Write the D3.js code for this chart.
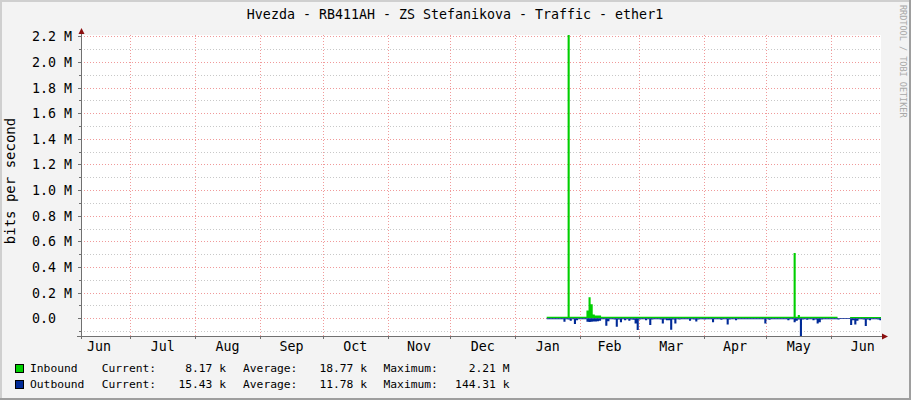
<!DOCTYPE html>
<html><head><meta charset="utf-8">
<script src="https://cdn.jsdelivr.net/npm/d3@7/dist/d3.min.js"></script>
<style>
html,body{margin:0;padding:0;background:#F3F3F3;}
svg{display:block;}
text{font-family:"DejaVu Sans Mono",monospace;}
</style></head>
<body>
<svg id="chart" width="911" height="400"></svg>
<script>
// ---------- data ----------
const title = "Hvezda - RB411AH - ZS Stefanikova - Traffic - ether1";
const yAxisTitle = "bits per second";
const watermark = "RRDTOOL / TOBI OETIKER";
const monthLabels = ["Jun","Jul","Aug","Sep","Oct","Nov","Dec","Jan","Feb","Mar","Apr","May","Jun"];
const yTickValues = [0,0.2e6,0.4e6,0.6e6,0.8e6,1.0e6,1.2e6,1.4e6,1.6e6,1.8e6,2.0e6,2.2e6];
const yTickLabels = ["0.0","0.2 M","0.4 M","0.6 M","0.8 M","1.0 M","1.2 M","1.4 M","1.6 M","1.8 M","2.0 M","2.2 M"];
const seriesNames = ["Inbound","Outbound"];
const seriesColors = ["#00CF00","#002A97"];
const statCurrent = ["8.17 k","15.43 k"];
const statAverage = ["18.77 k","11.78 k"];
const statMaximum = ["2.21 M","144.31 k"];
const dataStart = "2013-01-16";   // one value per day (kbit/s)
const inbound = [
 12,12,12,12,12,12,12,12,12,12, 2210,12,12,12,12,12,12,12,12,60,
 165,110,30,22,22,22,12,12,12,12, 12,12,12,12,12,12,12,12,12,12,
 12,12,12,12,12,12,12,12,12,12, 12,12,12,12,12,12,12,12,12,12,
 12,12,12,12,12,12,12,12,12,12, 12,12,12,12,12,12,12,12,12,12,
 12,12,12,12,12,12,12,12,12,12, 12,12,12,12,12,12,12,12,12,12,
 12,12,12,12,12,12,12,12,12,12, 12,12,12,12,12,12,12,12,510,12,
 25,12,12,12,12,12,12,12,12,12, 12,12,12,12,12,12,12,12,12,1,
 1,1,1,1,1,10,10,10,10,10, 10,10,10,10,10,10,10,10,10,10
];
const outbound = [
 8,8,8,8,8,8,8,8,26,8, 10,19,8,44,15,8,8,8,8,26,
 28,26,24,24,22,20,8,8,58,22, 8,8,10,65,10,30,8,15,8,20,
 10,12,40,91,10,8,8,15,8,52, 10,8,8,8,10,41,10,15,15,90,
 10,40,8,10,8,8,8,8,20,8, 10,25,10,8,8,10,8,8,8,30,
 8,8,8,12,8,8,48,10,8,8, 15,8,8,8,8,8,8,8,8,8,
 8,8,8,8,40,8,12,8,8,8, 8,8,8,8,8,15,8,8,30,20,
 10,144,10,8,12,8,8,15,10,40, 30,10,8,8,8,8,8,8,8,10,
 6,6,6,6,6,52,15,48,20,8, 8,10,60,10,15,8,8,8,10,15
];

// ---------- layout ----------
const W = 911, H = 400;
const plot = {left: 81, right: 881, top: 35, bottom: 336};
const svg = d3.select("#chart");

// frame
svg.append("rect").attr("x",0).attr("y",0).attr("width",W).attr("height",H).attr("fill","#F3F3F3");
svg.append("rect").attr("x",0).attr("y",0).attr("width",W).attr("height",2).attr("fill","#CFCFCF");
svg.append("rect").attr("x",0).attr("y",0).attr("width",2).attr("height",H).attr("fill","#CFCFCF");
svg.append("rect").attr("x",0).attr("y",H-2).attr("width",W).attr("height",2).attr("fill","#9E9E9E");
svg.append("rect").attr("x",W-2).attr("y",0).attr("width",2).attr("height",H).attr("fill","#9E9E9E");

// scales
const dayMs = 864e5;
const jan1 = Date.UTC(2013,0,1);
const pxPerDay = 2.0925;
const t0 = new Date(jan1 - (515.3 - plot.left)/pxPerDay*dayMs);
const t1 = new Date(t0.getTime() + (plot.right-plot.left)/pxPerDay*dayMs);
const x = d3.scaleUtc().domain([t0,t1]).range([plot.left, plot.right]);
const y = d3.scaleLinear().domain([-0.138e6, 2.21e6]).range([plot.bottom, plot.top]);

// plot background
svg.append("rect").attr("x",plot.left).attr("y",plot.top)
  .attr("width",plot.right-plot.left).attr("height",plot.bottom-plot.top).attr("fill","#FFFFFF");

// grid
const g = svg.append("g");
const minorY = d3.range(-0.1e6, 2.21e6, 0.1e6).filter(v => Math.round(v/1e5)%2 !== 0);
g.selectAll(".ymin").data(minorY).enter().append("line")
  .attr("x1",plot.left).attr("x2",plot.right)
  .attr("y1",d=>Math.round(y(d))+0.5).attr("y2",d=>Math.round(y(d))+0.5)
  .attr("stroke","#C8C8C8").attr("stroke-dasharray","1,2");
g.selectAll(".ymaj").data(yTickValues).enter().append("line")
  .attr("x1",plot.left).attr("x2",plot.right)
  .attr("y1",d=>Math.round(y(d))+0.5).attr("y2",d=>Math.round(y(d))+0.5)
  .attr("stroke","#F09A9A").attr("stroke-dasharray","1,2");
const monthStarts = d3.utcMonth.range(d3.utcMonth.ceil(t0), t1);
g.selectAll(".xmaj").data(monthStarts).enter().append("line")
  .attr("y1",plot.top).attr("y2",plot.bottom)
  .attr("x1",d=>Math.round(x(d))+0.5).attr("x2",d=>Math.round(x(d))+0.5)
  .attr("stroke","#F09A9A").attr("stroke-dasharray","1,2");

// data series
const start = new Date(dataStart + "T00:00:00Z");
const pts = inbound.map((v,i)=>({t:new Date(start.getTime()+i*dayMs), inb:v*1000, out:outbound[i]*1000}));
const last = pts[pts.length-1];
pts.push({t:new Date(last.t.getTime()+dayMs), inb:last.inb, out:last.out});
svg.append("clipPath").attr("id","pc").append("rect")
  .attr("x",plot.left).attr("y",plot.top).attr("width",plot.right-plot.left).attr("height",plot.bottom-plot.top);
const areaIn = d3.area().curve(d3.curveStepAfter).x(d=>x(d.t)).y0(y(0)).y1(d=>y(d.inb));
const areaOut = d3.area().curve(d3.curveStepAfter).x(d=>x(d.t)).y0(y(0)).y1(d=>y(-d.out));
svg.append("path").datum(pts).attr("d",areaIn).attr("fill",seriesColors[0]).attr("clip-path","url(#pc)");
svg.append("path").datum(pts).attr("d",areaOut).attr("fill",seriesColors[1]).attr("clip-path","url(#pc)");

// axes
const axisColor = "#707070";
svg.append("line").attr("x1",plot.left-4).attr("x2",plot.right+3)
  .attr("y1",plot.bottom+0.5).attr("y2",plot.bottom+0.5).attr("stroke",axisColor);
svg.append("line").attr("x1",plot.left+0.5).attr("x2",plot.left+0.5)
  .attr("y1",plot.bottom+3).attr("y2",plot.top-4).attr("stroke",axisColor);
svg.append("path").attr("d",`M${plot.left-2.5},${plot.top-1}L${plot.left+3.5},${plot.top-1}L${plot.left+0.5},${plot.top-7}Z`).attr("fill","#8B1010");
svg.append("path").attr("d",`M${plot.right+1},${plot.bottom-2.5}L${plot.right+1},${plot.bottom+3.5}L${plot.right+7},${plot.bottom+0.5}Z`).attr("fill","#8B1010");
// y ticks
svg.selectAll(".ytk").data(yTickValues).enter().append("line")
  .attr("x1",plot.left-3).attr("x2",plot.left)
  .attr("y1",d=>Math.round(y(d))+0.5).attr("y2",d=>Math.round(y(d))+0.5).attr("stroke",axisColor);
svg.selectAll(".ytm").data(minorY).enter().append("line")
  .attr("x1",plot.left-2).attr("x2",plot.left)
  .attr("y1",d=>Math.round(y(d))+0.5).attr("y2",d=>Math.round(y(d))+0.5).attr("stroke",axisColor);
// x ticks
svg.selectAll(".xtk").data(monthStarts).enter().append("line")
  .attr("x1",d=>Math.round(x(d))+0.5).attr("x2",d=>Math.round(x(d))+0.5)
  .attr("y1",plot.bottom).attr("y2",plot.bottom+3).attr("stroke",axisColor);

// y labels
svg.selectAll(".ylab").data(yTickValues).enter().append("text")
  .attr("x",32).attr("y",d=>y(d)+5)
  .attr("font-size","13.3px").attr("fill","#000")
  .text((d,i)=>yTickLabels[i]);

// month labels (centre of each month)
const monthCenters = d3.utcMonth.range(d3.utcMonth.floor(t0), t1).map(m=>{
  const n = d3.utcMonth.offset(m,1);
  return new Date(m.getTime() + (n-m)/2);
});
svg.selectAll(".xlab").data(monthCenters).enter().append("text")
  .attr("x",d=>x(d)).attr("y",351)
  .attr("text-anchor","middle").attr("font-size","13.3px").attr("fill","#000")
  .text((d,i)=>monthLabels[i]);

// title
svg.append("text").attr("x",455).attr("y",19).attr("text-anchor","middle")
  .attr("font-size","13.3px").attr("fill","#000").text(title);
// y axis title
svg.append("text").attr("transform","translate(15,181) rotate(-90)")
  .attr("text-anchor","middle").attr("font-size","14px").attr("fill","#000").text(yAxisTitle);
// watermark
svg.append("text").attr("transform","translate(900,5) rotate(90)")
  .attr("font-size","8.5px").attr("fill","#A8A8A8").text(watermark);

// legend
const rowsY = [372, 388];
seriesNames.forEach((name,i)=>{
  const ry = rowsY[i];
  svg.append("rect").attr("x",15.5).attr("y",ry-7.5).attr("width",8).attr("height",8)
    .attr("fill",seriesColors[i]).attr("stroke","#000");
  const tx = (xx, s, anchor)=>svg.append("text").attr("x",xx).attr("y",ry)
    .attr("font-size","11.3px").attr("fill","#000").attr("text-anchor",anchor||"start").text(s);
  tx(30, name);
  tx(101.7, "Current:");
  tx(226, statCurrent[i], "end");
  tx(243, "Average:");
  tx(367, statAverage[i], "end");
  tx(383.5, "Maximum:");
  tx(509.5, statMaximum[i], "end");
});
</script>
</body></html>
